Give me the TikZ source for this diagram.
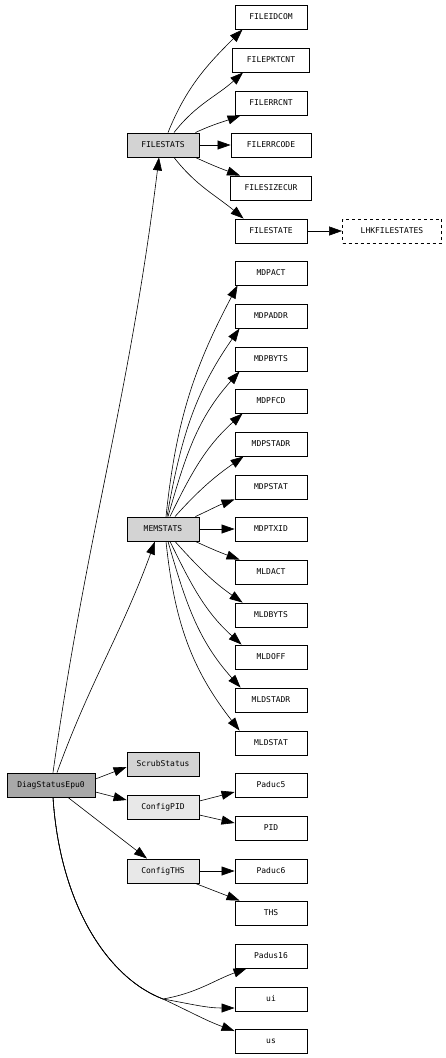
\documentclass[tikz,border=0pt]{standalone}
\usepackage{fontspec}
\setmonofont{DejaVu Sans Mono}
\usepackage{tikz}
\usetikzlibrary{arrows.meta}
\definecolor{rootgray}{RGB}{168,168,168}
\definecolor{groupgray}{RGB}{211,211,211}
\definecolor{cfggray}{RGB}{232,232,232}
\tikzset{
  field/.style={draw, line width=.9pt, minimum width=72pt, minimum height=24pt,
    inner sep=0pt, font=\ttfamily\fontsize{8}{9}\selectfont},
  group/.style={field, fill=groupgray},
  cfg/.style={field, fill=cfggray},
  link/.style={line width=.6pt, -{Triangle[length=13pt,width=9pt]}}
}
\newcommand{\trunk}{([xshift=2pt]diag.south) .. controls (60,-905) and (108,-978) .. (fork)}

\begin{document}
\begin{tikzpicture}[x=1pt,y=1pt]
  \useasboundingbox (0,0) rectangle (445,-1058);

  % Root and the second column.
  \node[field, fill=rootgray, minimum width=88pt] (diag) at (51,-785) {DiagStatusEpu0};
  \node[group] (filestats) at (163,-145) {FILESTATS};
  \node[group] (memstats) at (163,-529) {MEMSTATS};
  \node[group] (scrub) at (163,-764) {ScrubStatus};
  \node[cfg] (configpid) at (163,-807) {ConfigPID};
  \node[cfg] (configths) at (163,-871) {ConfigTHS};

  % FILESTATS fields.
  \node[field] (fileidcom) at (271,-17) {FILEIDCOM};
  \node[field, minimum width=77pt] (filepktcnt) at (271,-60) {FILEPKTCNT};
  \node[field] (filerrcnt) at (271,-103) {FILERRCNT};
  \node[field, minimum width=80pt] (filerrcode) at (271,-145) {FILERRCODE};
  \node[field, minimum width=81pt] (filesizecur) at (271,-188) {FILESIZECUR};
  \node[field] (filestate) at (271,-231) {FILESTATE};
  \node[field, dashed, minimum width=99pt] (lhkfilestates) at (392,-231) {LHKFILESTATES};

  % MEMSTATS fields.
  \node[field] (mdpact) at (271,-273) {MDPACT};
  \node[field] (mdpaddr) at (271,-316) {MDPADDR};
  \node[field] (mdpbyts) at (271,-359) {MDPBYTS};
  \node[field] (mdpfcd) at (271,-401) {MDPFCD};
  \node[field] (mdpstadr) at (271,-444) {MDPSTADR};
  \node[field] (mdpstat) at (271,-487) {MDPSTAT};
  \node[field] (mdptxid) at (271,-529) {MDPTXID};
  \node[field] (mldact) at (271,-572) {MLDACT};
  \node[field] (mldbyts) at (271,-615) {MLDBYTS};
  \node[field] (mldoff) at (271,-657) {MLDOFF};
  \node[field] (mldstadr) at (271,-700) {MLDSTADR};
  \node[field] (mldstat) at (271,-743) {MLDSTAT};

  % Config fields and the loose ones.
  \node[field] (paduc5) at (271,-785) {Paduc5};
  \node[field] (pid) at (271,-828) {PID};
  \node[field] (paduc6) at (271,-871) {Paduc6};
  \node[field] (ths) at (271,-913) {THS};
  \node[field] (padus16) at (271,-956) {Padus16};
  \node[field] (ui) at (271,-999) {ui};
  \node[field] (us) at (271,-1041) {us};
  \coordinate (fork) at (163,-999);

  % Edges out of the root.
  \draw[link] ([xshift=2pt]diag.north) to[out=82,in=-97] ([xshift=-4pt]filestats.south);
  \draw[link] ([xshift=6pt]diag.north) to[out=70,in=-110] ([xshift=-8pt]memstats.south);
  \draw[link] ([yshift=6pt]diag.east) -- ([yshift=-3pt]scrub.west);
  \draw[link] ([yshift=-7pt]diag.east) -- ([yshift=7pt]configpid.west);
  \draw[link] ([xshift=17pt]diag.south) -- ([xshift=-16pt]configths.north);
  \draw[link] \trunk to[out=10,in=200] ([xshift=12pt]padus16.south west);
  \draw[link] \trunk to[out=-10,in=180] ([yshift=-9pt]ui.west);
  \draw[link] \trunk to[out=-25,in=160] ([yshift=10pt]us.west);

  % FILESTATS edges.
  \draw[link] ([xshift=5pt]filestats.north) to[out=68,in=225] ([xshift=8pt]fileidcom.south west);
  \draw[link] ([xshift=11pt]filestats.north) to[out=52,in=222] ([xshift=11pt]filepktcnt.south west);
  \draw[link] ([xshift=-4pt]filestats.north east) to[out=25,in=200] ([xshift=6pt]filerrcnt.south west);
  \draw[link] (filestats) -- (filerrcode);
  \draw[link] ([xshift=-4pt]filestats.south east) to[out=-25,in=160] ([xshift=10pt]filesizecur.north west);
  \draw[link] ([xshift=11pt]filestats.south) to[out=-52,in=140] ([xshift=9pt]filestate.north west);
  \draw[link] (filestate) -- (lhkfilestates);

  % MEMSTATS edges.
  \draw[link] ([xshift=3pt]memstats.north) to[out=84,in=242] ([xshift=3pt]mdpact.south west);
  \draw[link] ([xshift=4pt]memstats.north) to[out=80,in=235] ([xshift=5pt]mdpaddr.south west);
  \draw[link] ([xshift=5pt]memstats.north) to[out=74,in=228] ([xshift=5pt]mdpbyts.south west);
  \draw[link] ([xshift=7pt]memstats.north) to[out=64,in=222] ([xshift=8pt]mdpfcd.south west);
  \draw[link] ([xshift=12pt]memstats.north) to[out=48,in=215] ([xshift=9pt]mdpstadr.south west);
  \draw[link] ([xshift=-4pt]memstats.north east) to[out=25,in=200] (mdpstat.south west);
  \draw[link] (memstats) -- (mdptxid);
  \draw[link] ([xshift=-4pt]memstats.south east) to[out=-25,in=160] ([xshift=5pt]mldact.north west);
  \draw[link] ([xshift=12pt]memstats.south) to[out=-48,in=145] ([xshift=8pt]mldbyts.north west);
  \draw[link] ([xshift=7pt]memstats.south) to[out=-64,in=138] ([xshift=7pt]mldoff.north west);
  \draw[link] ([xshift=5pt]memstats.south) to[out=-74,in=132] ([xshift=6pt]mldstadr.north west);
  \draw[link] ([xshift=3pt]memstats.south) to[out=-84,in=128] ([xshift=5pt]mldstat.north west);

  % Config edges.
  \draw[link] ([yshift=6pt]configpid.east) -- ([yshift=-7pt]paduc5.west);
  \draw[link] ([yshift=-8pt]configpid.east) -- ([yshift=5pt]pid.west);
  \draw[link] (configths) -- (paduc6);
  \draw[link] ([xshift=-4pt]configths.south east) -- ([xshift=5pt]ths.north west);
\end{tikzpicture}
\end{document}
